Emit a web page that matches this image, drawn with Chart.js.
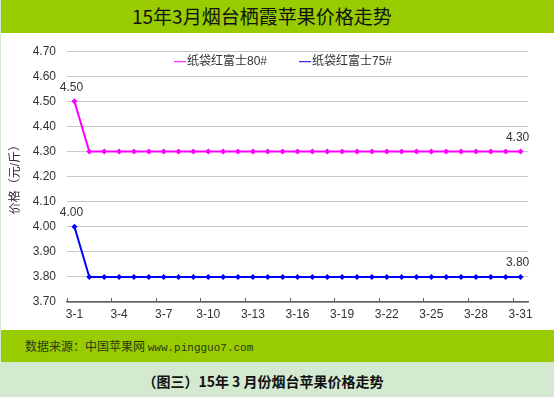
<!DOCTYPE html>
<html>
<head>
<meta charset="utf-8">
<script src="https://cdn.jsdelivr.net/npm/chart.js@4"></script>
<style>
  html, body { margin: 0; padding: 0; }
  body { width: 554px; height: 397px; position: relative; overflow: hidden; background: #d3ead1; }
  #title-bar { position: absolute; left: 1px; top: 0; width: 553px; height: 33px; background: #99cc00; }
  #title-bar span { position: absolute; left: 131px; top: 3px; font: 19px "Noto Sans CJK SC", sans-serif; color: #111; line-height: 26px; }
  #plot { position: absolute; left: 1px; top: 33px; width: 553px; height: 297px; background: #fff; }
  #source-bar { position: absolute; left: 1px; top: 330px; width: 553px; height: 32px; background: #99cc00; }
  #source-bar span { position: absolute; left: 24px; top: 7px; font: 12px "Noto Sans CJK SC", sans-serif; color: #2a3a10; line-height: 18px; }
  #source-bar .url { position: static; font: 11px "Liberation Mono", monospace; }
  #caption { position: absolute; left: 0; top: 372px; width: 526px; text-align: center; font: bold 14px "Noto Sans CJK SC", serif; color: #111; line-height: 18px; }
</style>
</head>
<body>
<div id="title-bar"><span>15年3月烟台栖霞苹果价格走势</span></div>
<div id="plot"><canvas id="priceChart" width="553" height="297"></canvas></div>
<div id="source-bar"><span>数据来源：中国苹果网 <span class="url">www.pingguo7.com</span></span></div>
<div id="caption">（图三）15年 3 月份烟台苹果价格走势</div>
<script>
const days = ["3-1", "3-2", "3-3", "3-4", "3-5", "3-6", "3-7", "3-8", "3-9", "3-10",
  "3-11", "3-12", "3-13", "3-14", "3-15", "3-16", "3-17", "3-18", "3-19", "3-20",
  "3-21", "3-22", "3-23", "3-24", "3-25", "3-26", "3-27", "3-28", "3-29", "3-30", "3-31"];

const fuji80 = [4.50, 4.30, 4.30, 4.30, 4.30, 4.30, 4.30, 4.30, 4.30, 4.30,
  4.30, 4.30, 4.30, 4.30, 4.30, 4.30, 4.30, 4.30, 4.30, 4.30,
  4.30, 4.30, 4.30, 4.30, 4.30, 4.30, 4.30, 4.30, 4.30, 4.30, 4.30];

const fuji75 = [4.00, 3.80, 3.80, 3.80, 3.80, 3.80, 3.80, 3.80, 3.80, 3.80,
  3.80, 3.80, 3.80, 3.80, 3.80, 3.80, 3.80, 3.80, 3.80, 3.80,
  3.80, 3.80, 3.80, 3.80, 3.80, 3.80, 3.80, 3.80, 3.80, 3.80, 3.80];

const seriesNames = ["纸袋红富士80#", "纸袋红富士75#"];
const labelledPoints = [0, 30];

const FONT = "'Liberation Sans', 'Noto Sans CJK SC', sans-serif";
const TEXT = "#333333";

function buildSeries(label, color, data) {
  return {
    label,
    data,
    borderColor: color,
    backgroundColor: color,
    borderWidth: 2,
    tension: 0,
    pointStyle: "rectRot",
    pointRadius: 3,
    pointHoverRadius: 3,
    pointBorderWidth: 0
  };
}

// legend drawn inside the plot, just under the top gridline
const innerLegend = {
  id: "innerLegend",
  afterDraw(chart) {
    const ctx = chart.ctx;
    const area = chart.chartArea;
    ctx.save();
    ctx.font = "12px " + FONT;
    ctx.textBaseline = "middle";
    ctx.textAlign = "left";
    let x = area.left + 107;
    const y = area.top + 10;
    chart.data.datasets.forEach((ds) => {
      ctx.strokeStyle = ds.borderColor;
      ctx.lineWidth = 1;
      ctx.beginPath();
      ctx.moveTo(x, y + 0.5);
      ctx.lineTo(x + 12, y + 0.5);
      ctx.stroke();
      ctx.fillStyle = TEXT;
      ctx.fillText(ds.label, x + 13, y);
      x += 13 + ctx.measureText(ds.label).width + 32;
    });
    ctx.restore();
  }
};

// value labels on first and last points
const pointLabels = {
  id: "pointLabels",
  afterDatasetsDraw(chart) {
    const ctx = chart.ctx;
    ctx.save();
    ctx.font = "12px " + FONT;
    ctx.fillStyle = TEXT;
    ctx.textAlign = "center";
    ctx.textBaseline = "middle";
    chart.data.datasets.forEach((ds, di) => {
      const meta = chart.getDatasetMeta(di);
      labelledPoints.forEach((i) => {
        const pt = meta.data[i];
        ctx.fillText(ds.data[i].toFixed(2), pt.x - 3, pt.y - 14);
      });
    });
    ctx.restore();
  }
};

new Chart(document.getElementById("priceChart").getContext("2d"), {
  type: "line",
  data: {
    labels: days,
    datasets: [
      buildSeries(seriesNames[0], "#ff00ff", fuji80),
      buildSeries(seriesNames[1], "#0000ff", fuji75)
    ]
  },
  options: {
    responsive: false,
    animation: false,
    events: [],
    layout: { padding: { top: 17, right: 26, left: 0, bottom: 0 } },
    plugins: {
      legend: { display: false },
      title: { display: false },
      tooltip: { enabled: false }
    },
    scales: {
      x: {
        offset: true,
        grid: {
          offset: true,
          drawOnChartArea: false,
          tickLength: -4,
          lineWidth: 1,
          color: (c) => (c.index % 3 === 0 ? "#606060" : "rgba(0,0,0,0)")
        },
        border: { color: "#606060", width: 1.5 },
        ticks: {
          autoSkip: false,
          maxRotation: 0,
          padding: 9,
          color: TEXT,
          font: { family: FONT, size: 12 },
          callback: (v, i) => (i % 3 === 0 ? days[i] : "")
        },
        afterFit: (s) => { s.height = 28; }
      },
      y: {
        min: 3.7,
        max: 4.7,
        grid: { color: "#c8c8c8", lineWidth: 1, drawTicks: false },
        border: { display: false },
        ticks: {
          stepSize: 0.1,
          padding: 11,
          color: TEXT,
          font: { family: FONT, size: 12 },
          callback: (v) => Number(v).toFixed(2)
        },
        title: {
          display: true,
          text: "价格（元/斤）",
          color: TEXT,
          padding: { top: 7, bottom: 0 },
          font: { family: FONT, size: 12 }
        },
        afterFit: (s) => { s.width = 66; }
      }
    }
  },
  plugins: [innerLegend, pointLabels]
});
</script>
</body>
</html>
